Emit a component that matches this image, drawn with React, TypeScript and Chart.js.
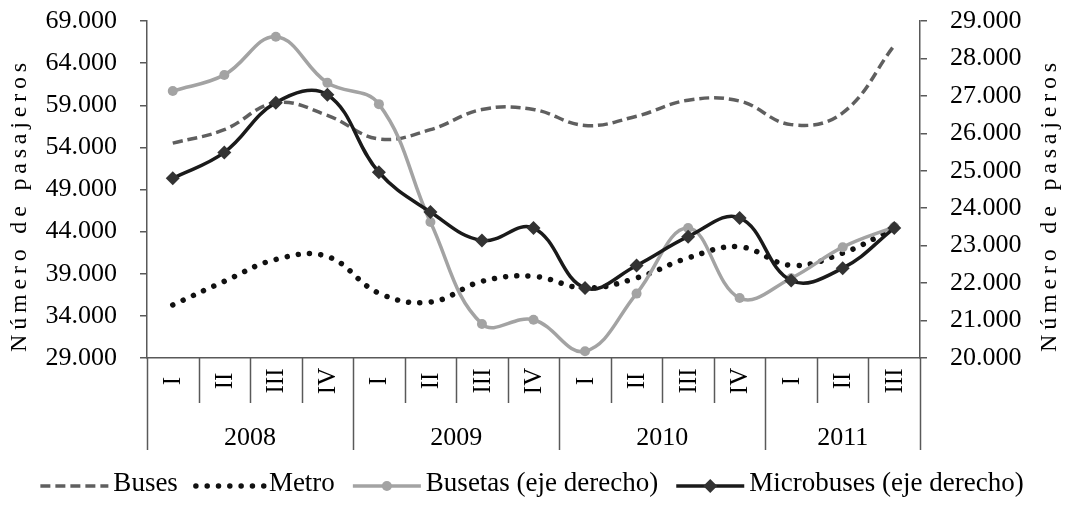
import React, { useEffect, useRef } from 'react';
import { Chart, registerables } from 'chart.js';

Chart.register(...registerables);

// ---- Data ----
const quarters = ['I', 'II', 'III', 'IV', 'I', 'II', 'III', 'IV', 'I', 'II', 'III', 'IV', 'I', 'II', 'III'];
const years = ['2008', '2009', '2010', '2011'];
const quartersPerYear = [4, 4, 4, 3];

const buses = [54500, 56100, 59300, 57800, 55000, 56100, 58500, 58500, 56600, 57700, 59600, 59500, 56700, 58100, 66100];
const metro = [35300, 38100, 40700, 41050, 36700, 35640, 38100, 38700, 37300, 38500, 40880, 42200, 40000, 41450, 44400];
const busetas = [27130, 27560, 28580, 27350, 26780, 23630, 20910, 21020, 20180, 21720, 23470, 21600, 22130, 22960, 23500];
const microbuses = [24800, 25490, 26820, 27030, 24960, 23900, 23140, 23470, 21870, 22470, 23240, 23740, 22070, 22400, 23470];

const seriesLabels = ['Buses', 'Metro', 'Busetas (eje derecho)', 'Microbuses (eje derecho)'];
const axisTitle = 'Número de pasajeros';

const leftMin = 29000;
const leftMax = 69000;
const leftStep = 5000;
const rightMin = 20000;
const rightMax = 29000;
const rightStep = 1000;

// ---- Styles ----
const FONT = '"Liberation Serif", "Times New Roman", serif';
const AXIS_COLOR = '#595959';
const fmt = (v: number) => (v / 1000).toFixed(3);

const W = 1068;
const H = 506;

const xLabelsPlugin = {
  id: 'xLabels',
  afterDraw(chart: any) {
    const ctx = chart.ctx;
    const x = chart.scales.x;
    const top = chart.chartArea.bottom;
    ctx.save();
    ctx.strokeStyle = AXIS_COLOR;
    ctx.lineWidth = 1.5;
    const yearBounds = new Set<number>();
    let acc = 0;
    yearBounds.add(0);
    quartersPerYear.forEach((n) => {
      acc += n;
      yearBounds.add(acc);
    });
    for (let i = 0; i <= quarters.length; i++) {
      const px = Math.round(x.getPixelForValue(i - 0.5)) + 0.5;
      const bottom = yearBounds.has(i) ? top + 92 : top + 45;
      ctx.beginPath();
      ctx.moveTo(px, top);
      ctx.lineTo(px, bottom);
      ctx.stroke();
    }
    ctx.fillStyle = '#000';
    ctx.font = `25px ${FONT}`;
    ctx.textAlign = 'center';
    ctx.textBaseline = 'middle';
    quarters.forEach((q, i) => {
      const px = x.getPixelForValue(i);
      ctx.save();
      ctx.translate(px, top + 23);
      ctx.rotate(-Math.PI / 2);
      ctx.fillText(q, 0, 1);
      ctx.restore();
    });
    ctx.font = `26px ${FONT}`;
    let start = 0;
    years.forEach((yr, k) => {
      const n = quartersPerYear[k];
      const a = x.getPixelForValue(start - 0.5);
      const b = x.getPixelForValue(start + n - 0.5);
      ctx.fillText(yr, (a + b) / 2, top + 80);
      start += n;
    });
    ctx.restore();
  },
};

const titlesPlugin = {
  id: 'axisTitles',
  afterDraw(chart: any) {
    const ctx = chart.ctx;
    const cy = 207;
    ctx.save();
    ctx.fillStyle = '#000';
    ctx.font = `24px ${FONT}`;
    ctx.textAlign = 'center';
    ctx.textBaseline = 'middle';
    (ctx as any).letterSpacing = '4.8px';
    [20, 1050].forEach((cx) => {
      ctx.save();
      ctx.translate(cx, cy);
      ctx.rotate(-Math.PI / 2);
      ctx.fillText(axisTitle, 2, 0);
      ctx.restore();
    });
    ctx.restore();
  },
};

const legendPlugin = {
  id: 'customLegend',
  afterDraw(chart: any) {
    const ctx = chart.ctx;
    ctx.save();
    ctx.font = `27px ${FONT}`;
    const sampleW = 68;
    const gapText = 5;
    const gapItem = 18;
    const dss = chart.data.datasets;
    const widths = dss.map((d: any) => ctx.measureText(d.label).width);
    const total = widths.reduce((s: number, w: number) => s + sampleW + gapText + w, 0) + gapItem * (dss.length - 1);
    let x0 = 532 - total / 2;
    const y = 486;
    dss.forEach((d: any, i: number) => {
      ctx.save();
      ctx.strokeStyle = d.borderColor;
      ctx.lineWidth = d.borderWidth;
      ctx.lineCap = d.borderCapStyle || 'butt';
      ctx.setLineDash(d.borderDash || []);
      ctx.beginPath();
      ctx.moveTo(x0, y);
      ctx.lineTo(x0 + sampleW, y);
      ctx.stroke();
      ctx.setLineDash([]);
      const cx = x0 + sampleW / 2;
      if (d.pointRadius > 0) {
        ctx.fillStyle = d.pointBackgroundColor;
        const r = d.pointRadius;
        ctx.beginPath();
        if (d.pointStyle === 'rectRot') {
          ctx.moveTo(cx, y - r);
          ctx.lineTo(cx + r, y);
          ctx.lineTo(cx, y + r);
          ctx.lineTo(cx - r, y);
          ctx.closePath();
        } else {
          ctx.arc(cx, y, r, 0, Math.PI * 2);
        }
        ctx.fill();
      }
      ctx.restore();
      ctx.fillStyle = '#000';
      ctx.textAlign = 'left';
      ctx.textBaseline = 'middle';
      ctx.fillText(d.label, x0 + sampleW + gapText, y - 2);
      x0 += sampleW + gapText + widths[i] + gapItem;
    });
    ctx.restore();
  },
};

const fitY = (width: number) => (s: any) => {
  s.width = width;
  s.paddingTop = 0;
  s.paddingBottom = 0;
};

export default function App() {
  const ref = useRef<HTMLCanvasElement>(null);

  useEffect(() => {
    if (!ref.current) return;
    const chart = new Chart(ref.current, {
      type: 'line',
      data: {
        labels: quarters,
        datasets: [
          {
            label: seriesLabels[0],
            data: buses,
            yAxisID: 'y',
            borderColor: '#5f5f5f',
            borderWidth: 3.5,
            borderDash: [10, 5],
            pointRadius: 0,
            tension: 0.4,
            fill: false,
            order: 3,
          },
          {
            label: seriesLabels[1],
            data: metro,
            yAxisID: 'y',
            borderColor: '#111111',
            borderWidth: 5.5,
            borderDash: [0.01, 11.3],
            borderCapStyle: 'round',
            pointRadius: 0,
            tension: 0.4,
            fill: false,
            order: 2,
          },
          {
            label: seriesLabels[2],
            data: busetas,
            yAxisID: 'y1',
            borderColor: '#a3a3a3',
            borderWidth: 3.5,
            pointRadius: 5,
            pointStyle: 'circle',
            pointBackgroundColor: '#a3a3a3',
            pointBorderColor: '#a3a3a3',
            pointBorderWidth: 0,
            tension: 0.4,
            fill: false,
            order: 1,
          },
          {
            label: seriesLabels[3],
            data: microbuses,
            yAxisID: 'y1',
            borderColor: '#1a1a1a',
            borderWidth: 3.5,
            pointRadius: 7,
            pointStyle: 'rectRot',
            pointBackgroundColor: '#333333',
            pointBorderColor: '#333333',
            pointBorderWidth: 0,
            tension: 0.4,
            fill: false,
            order: 0,
          },
        ] as any,
      },
      options: {
        responsive: false,
        animation: false,
        layout: { padding: { top: 21, left: 0, right: 0, bottom: 0 } },
        plugins: {
          legend: { display: false },
          tooltip: { enabled: false },
          title: { display: false },
        },
        scales: {
          x: {
            type: 'category',
            offset: true,
            grid: { display: false },
            border: { display: true, color: AXIS_COLOR, width: 1.5 },
            ticks: { display: false },
            afterFit: (s: any) => {
              s.height = 148;
              s.paddingLeft = 0;
              s.paddingRight = 0;
            },
          } as any,
          y: {
            position: 'left',
            min: leftMin,
            max: leftMax,
            ticks: {
              stepSize: leftStep,
              callback: (v: any) => fmt(Number(v)),
              color: '#000',
              font: { family: FONT, size: 26 },
              padding: 23,
            },
            grid: { drawOnChartArea: false, tickLength: 7, color: AXIS_COLOR, lineWidth: 1.5 },
            border: { display: true, color: AXIS_COLOR, width: 1.5 },
            afterFit: fitY(147),
          } as any,
          y1: {
            position: 'right',
            min: rightMin,
            max: rightMax,
            ticks: {
              stepSize: rightStep,
              callback: (v: any) => fmt(Number(v)),
              color: '#000',
              font: { family: FONT, size: 26 },
              padding: 23,
            },
            grid: { drawOnChartArea: false, tickLength: 7, color: AXIS_COLOR, lineWidth: 1.5 },
            border: { display: true, color: AXIS_COLOR, width: 1.5 },
            afterFit: fitY(148),
          } as any,
        },
      },
      plugins: [xLabelsPlugin, titlesPlugin, legendPlugin],
    });
    return () => chart.destroy();
  }, []);

  return (
    <div style={{ position: 'fixed', left: 0, top: 0, width: W, height: H, background: '#fff' }}>
      <canvas ref={ref} width={W} height={H} style={{ display: 'block', width: W, height: H }} />
    </div>
  );
}
